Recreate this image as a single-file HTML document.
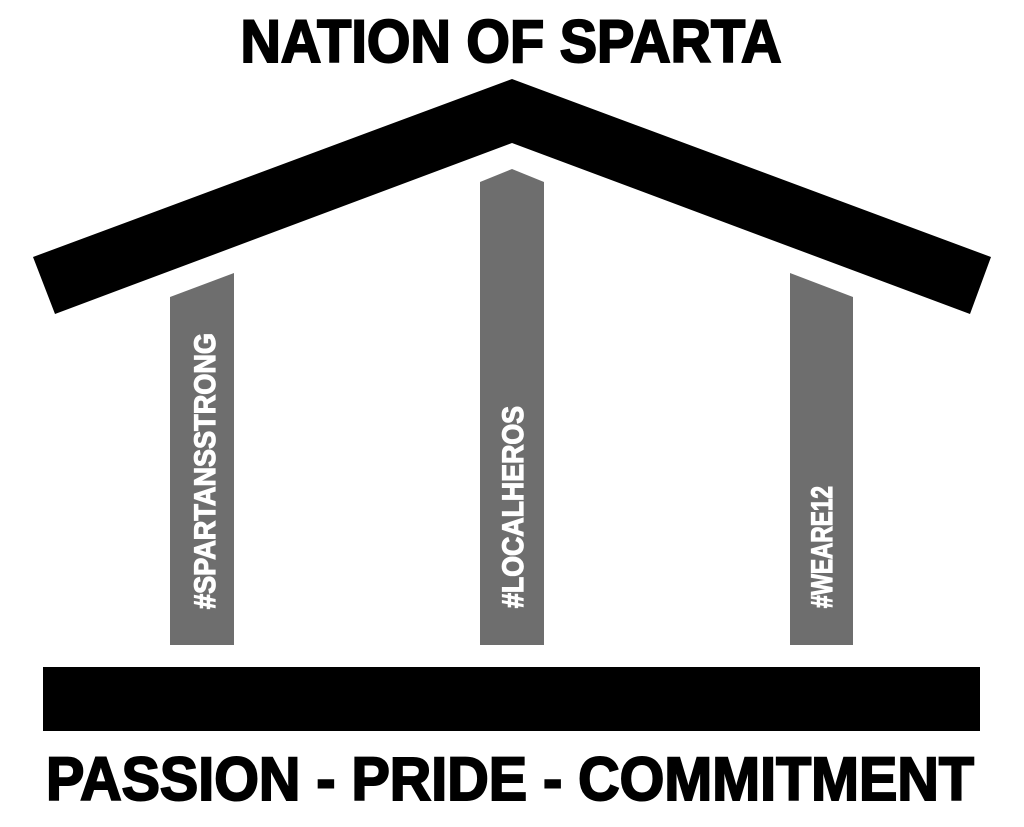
<!DOCTYPE html>
<html><head><style>html,body{margin:0;padding:0;background:#fff;}svg{display:block;}</style></head>
<body>
<svg width="1024" height="827" viewBox="0 0 1024 827" xmlns="http://www.w3.org/2000/svg">
<rect width="1024" height="827" fill="#fff"/>
<text x="511" y="62" font-family="Liberation Sans, sans-serif" font-weight="bold" font-size="60" textLength="541" lengthAdjust="spacingAndGlyphs" text-anchor="middle" fill="#000" stroke="#000" stroke-width="2">NATION OF SPARTA</text>
<polygon points="33,257 512,79 991,257 970,314 512,143 55,314" fill="#000"/>
<polygon points="170,297 234,273 234,645 170,645" fill="#6e6e6e"/>
<polygon points="480,182 512,169 544,182 544,645 480,645" fill="#6e6e6e"/>
<polygon points="790,273 853,297 853,645 790,645" fill="#6e6e6e"/>
<g font-family="Liberation Sans, sans-serif" font-weight="bold" font-size="30" fill="#fff" stroke="#fff" stroke-width="1.2">
<text transform="translate(215,609) rotate(-90)" textLength="276" lengthAdjust="spacingAndGlyphs">#SPARTANSSTRONG</text>
<text transform="translate(523,608) rotate(-90)" textLength="202" lengthAdjust="spacingAndGlyphs">#LOCALHEROS</text>
<text transform="translate(832,608) rotate(-90)" textLength="122" lengthAdjust="spacingAndGlyphs">#WEARE12</text>
</g>
<rect x="43" y="667" width="937" height="64" fill="#000"/>
<text x="510" y="800" font-family="Liberation Sans, sans-serif" font-weight="bold" font-size="61" textLength="928" lengthAdjust="spacingAndGlyphs" text-anchor="middle" fill="#000" stroke="#000" stroke-width="2">PASSION - PRIDE - COMMITMENT</text>
</svg>
</body></html>
